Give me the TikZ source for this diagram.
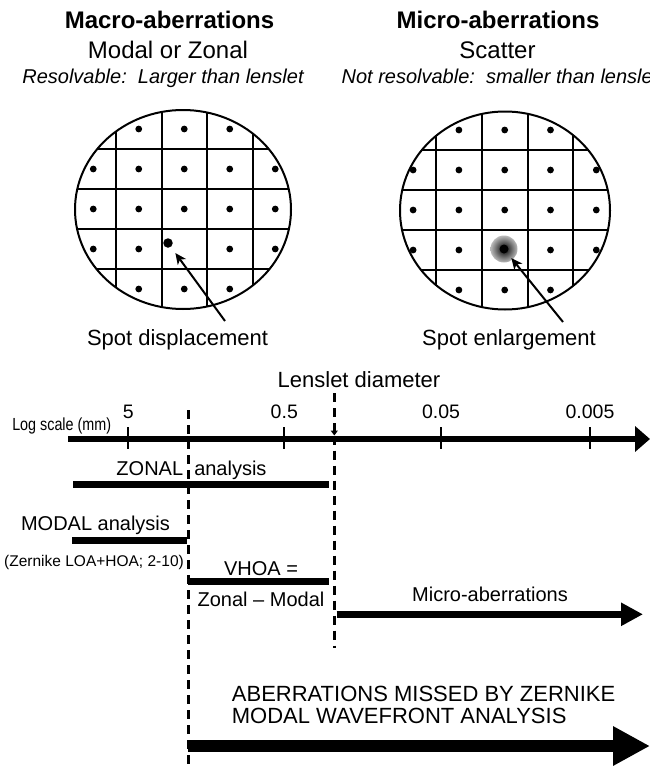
\documentclass[tikz,border=0pt]{standalone}
\usepackage{fontspec}
\setmainfont{Liberation Sans}
\newfontfamily\condfont[FakeStretch=0.82]{Liberation Sans}
\usepackage{tikz}
\usetikzlibrary{arrows.meta}
\usetikzlibrary{calc}
\usepackage{xcolor}
\definecolor{halogray}{rgb}{0.55,0.55,0.55}
\tikzset{
  headtxt/.style={inner sep=0pt, anchor=base, font=\bfseries\fontsize{24}{28}\selectfont},
  subtxt/.style={inner sep=0pt, anchor=base, font=\fontsize{24}{28}\selectfont},
  notetxt/.style={inner sep=0pt, anchor=base, font=\itshape\fontsize{20}{24}\selectfont},
  captxt/.style={inner sep=0pt, anchor=base, font=\fontsize{22}{22}\selectfont},
  bartxt/.style={inner sep=0pt, anchor=base, font=\fontsize{20}{24}\selectfont},
  numtxt/.style={inner sep=0pt, anchor=base, font=\fontsize{19.5}{24}\selectfont},
  logtxt/.style={inner sep=0pt, anchor=base, font=\condfont\fontsize{17.5}{20}\selectfont},
  smalltxt/.style={inner sep=0pt, anchor=base, font=\fontsize{15.5}{18}\selectfont},
  gridline/.style={black, line width=2pt},
  rim/.style={black, line width=2pt},
  spot/.style={black},
  bigdot/.style={circle, fill=black, inner sep=0pt, minimum size=9.5pt, anchor=center},
  pointer/.style={black, line width=2pt, -{Stealth[length=11pt,width=10pt,inset=3pt]}},
  lensdash/.style={black, line width=2.5pt, dash pattern=on 9pt off 6pt},
  bar/.style={black, line width=7pt},
  tick/.style={black, line width=2.3pt},
}

\begin{document}
\begin{tikzpicture}[x=1pt,y=-1pt]
\useasboundingbox (0,0) rectangle (650,766);
\clip (0,0) rectangle (650,766);

%%%%%%%%%%%%%%%%%%%%%%%%%%%%%%%%%%%%%%%%%%%%%%%%%%%%%%%%%%%%%% Headings
\node[headtxt] (macrohead) at (169.5,28.5) {Macro-aberrations};
\node[subtxt]  (macrosub)  at (168,58.5)   {Modal or Zonal};
\node[notetxt] (macronote) at (163,83)     {Resolvable:\ \ Larger than lenslet};

\node[headtxt] (microhead) at (498,28.5)   {Micro-aberrations};
\node[subtxt]  (microsub)  at (497.5,58.5) {Scatter};
\node[notetxt] (micronote) at (500,83)     {Not resolvable:\ \ smaller than lenslet};

%%%%%%%%%%%%%%%%%%%%%%%%%%%%%%%%%%%%%%%%%%%%%%%%%%%%%%%%%%%%%% Left lens array
\coordinate (L) at (183,209.5);
\begin{scope}
  \clip (L) ellipse [x radius=108pt, y radius=99.5pt];
  \draw[gridline] (116,100) -- (116,320);
  \draw[gridline] (161.5,100) -- (161.5,320);
  \draw[gridline] (207,100) -- (207,320);
  \draw[gridline] (252.5,100) -- (252.5,320);
  \draw[gridline] (60,149) -- (300,149);
  \draw[gridline] (60,189) -- (300,189);
  \draw[gridline] (60,229) -- (300,229);
  \draw[gridline] (60,269) -- (300,269);
\end{scope}
\foreach \x in {138.75,184.25,229.75} \fill[spot] (\x,129) circle (3.4pt);
\foreach \x in {93.25,138.75,184.25,229.75,275.25} \fill[spot] (\x,169) circle (3.4pt);
\foreach \x in {93.25,138.75,184.25,229.75,275.25} \fill[spot] (\x,209) circle (3.4pt);
\foreach \x in {93.25,138.75,229.75,275.25} \fill[spot] (\x,249) circle (3.4pt);
\foreach \x in {138.75,184.25,229.75} \fill[spot] (\x,289) circle (3.4pt);
\draw[rim] (L) ellipse [x radius=108pt, y radius=99.5pt];

\node[bigdot] (shifted) at (168,243) {};
\coordinate (shiftfoot) at (225,321);
\draw[pointer, shorten >=7.5pt] (shiftfoot) -- (shifted);
\node[captxt] (displbl) at (177.5,345) {Spot displacement};

%%%%%%%%%%%%%%%%%%%%%%%%%%%%%%%%%%%%%%%%%%%%%%%%%%%%%%%%%%%%%% Right lens array
\coordinate (R) at (505,210.5);
\begin{scope}
  \clip (R) ellipse [x radius=105pt, y radius=99pt];
  \draw[gridline] (436,100) -- (436,320);
  \draw[gridline] (481.8,100) -- (481.8,320);
  \draw[gridline] (527.6,100) -- (527.6,320);
  \draw[gridline] (573.4,100) -- (573.4,320);
  \draw[gridline] (390,150) -- (620,150);
  \draw[gridline] (390,190) -- (620,190);
  \draw[gridline] (390,230) -- (620,230);
  \draw[gridline] (390,270) -- (620,270);
\end{scope}
\foreach \x in {458.9,504.7,550.5} \fill[spot] (\x,130) circle (3.4pt);
\foreach \x in {413.1,458.9,504.7,550.5,596.3} \fill[spot] (\x,170) circle (3.4pt);
\foreach \x in {413.1,458.9,504.7,550.5,596.3} \fill[spot] (\x,210) circle (3.4pt);
\foreach \x in {413.1,458.9,550.5,596.3} \fill[spot] (\x,250) circle (3.4pt);
\foreach \x in {458.9,504.7,550.5} \fill[spot] (\x,290) circle (3.4pt);
\draw[rim] (R) ellipse [x radius=105pt, y radius=99pt];

\shade[inner color=black, outer color=halogray!60] (504,249) circle (13.5pt);
\node[bigdot, minimum size=9pt] (blurred) at (504,249) {};
\coordinate (blurfoot) at (563,322);
\draw[pointer, shorten >=7pt] (blurfoot) -- (blurred);
\node[captxt] (enlbl) at (509,345) {Spot enlargement};

%%%%%%%%%%%%%%%%%%%%%%%%%%%%%%%%%%%%%%%%%%%%%%%%%%%%%%%%%%%%%% Log scale
\node[captxt] (lenslbl) at (359,387) {Lenslet diameter};
\node[logtxt] (loglbl) at (61.7,430) {Log scale (mm)};

\coordinate (axisL) at (68,439);
\coordinate (axisR) at (650,439);
\draw[black, line width=6.5pt, -{Triangle[length=15pt,width=25pt]}] (axisL) -- (axisR);

\foreach \x/\v [count=\k] in {128.3/5,284.3/0.5,441/0.05,590/0.005} {
  \draw[tick] (\x,427) -- (\x,449);
  \node[numtxt] (tick\k) at (\x,418.5) {\v};
}

% lenslet boundary and modal limit
\coordinate (lenstop)  at (334.3,393);
\coordinate (lensmark) at (334.3,435.5);
\coordinate (lensbot)  at (334.3,648);
\draw[lensdash, -{Triangle[length=5pt,width=7pt]}] (lenstop) -- (lensmark);
\draw[lensdash] (lensmark) -- (lensbot);

\coordinate (modaltop) at (188.3,410);
\coordinate (modalbot) at (188.3,766);
\draw[lensdash] (modaltop) -- (modalbot);

%%%%%%%%%%%%%%%%%%%%%%%%%%%%%%%%%%%%%%%%%%%%%%%%%%%%%%%%%%%%%% Ranges
\node[bartxt] (zonallbl) at (191.5,475) {ZONAL\ \ analysis};
\draw[bar] (73,484) -- (329,484);

\node[bartxt] (modallbl) at (95.5,530) {MODAL analysis};
\draw[bar] (72,540) -- (186.7,540);
\node[smalltxt] (zernlbl) at (94,566.5) {(Zernike LOA+HOA; 2-10)};

\node[bartxt] (vhoalbl) at (261,575) {VHOA =};
\draw[bar] (188.3,581) -- (329,581);
\node[bartxt] (difflbl) at (261,606.5) {Zonal -- Modal};

\node[bartxt] (microlbl) at (490,601.5) {Micro-aberrations};
\coordinate (microL) at (336.7,614.3);
\coordinate (microR) at (643,614.3);
\draw[black, line width=7pt, -{Triangle[length=22pt,width=22pt]}] (microL) -- (microR);

\node[captxt, anchor=base west] (missedlbl) at (231.7,701) {ABERRATIONS MISSED BY ZERNIKE};
\node[captxt, anchor=base west] (missedlbl2) at (231.7,723) {MODAL WAVEFRONT ANALYSIS};
\coordinate (missedL) at (188.3,746);
\coordinate (missedR) at (650,746);
\draw[black, line width=12.7pt, -{Triangle[length=37pt,width=37pt]}] (missedL) -- (missedR);

\end{tikzpicture}
\end{document}
